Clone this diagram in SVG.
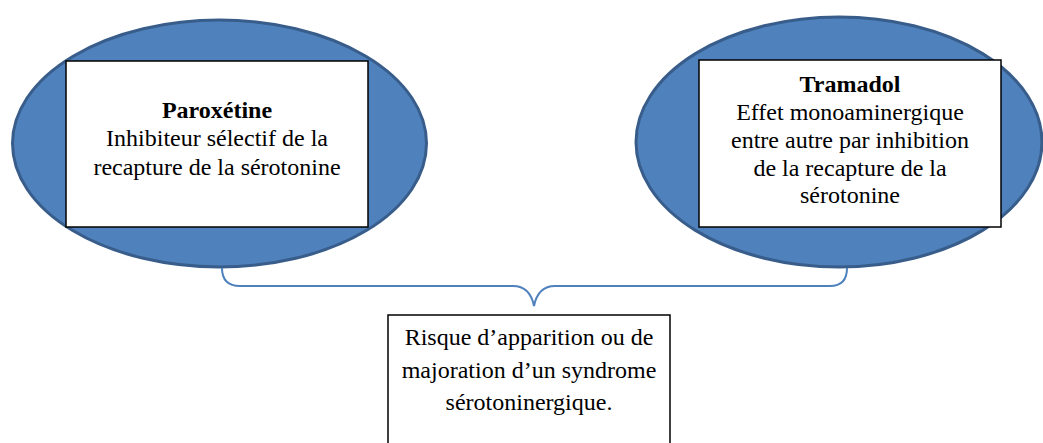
<svg xmlns="http://www.w3.org/2000/svg" width="1043" height="443" viewBox="0 0 1043 443">
<style>
.ell{fill:#4F81BD;stroke:#385D8A;stroke-width:3}
.box{fill:#FFFFFF;stroke:#000000;stroke-width:1.5}
.t{font-family:"Liberation Serif","Times New Roman",serif;font-size:24px;fill:#000;text-anchor:middle}
.b{font-weight:bold}
.brace{fill:none;stroke:#4F81BD;stroke-width:2}
</style>
<rect width="1043" height="443" fill="#FFFFFF"/>
<g id="paroxetine">
<ellipse class="ell" cx="219.5" cy="143.5" rx="207" ry="123.5"/>
<rect class="box" x="66" y="61" width="302" height="166"/>
<text class="t b" x="217" y="118">Paroxétine</text>
<text class="t" x="217" y="146">Inhibiteur sélectif de la</text>
<text class="t" x="217" y="175">recapture de la sérotonine</text>
</g>
<g id="tramadol">
<ellipse class="ell" cx="839" cy="142" rx="203" ry="125"/>
<rect class="box" x="699" y="60" width="302" height="167"/>
<text class="t b" x="850" y="92">Tramadol</text>
<text class="t" x="850" y="120">Effet monoaminergique</text>
<text class="t" x="850" y="148">entre autre par inhibition</text>
<text class="t" x="850" y="176">de la recapture de la</text>
<text class="t" x="850" y="203">sérotonine</text>
</g>
<g id="connectors">
<path class="brace" d="M222,268 Q222,286 240,286 L513,286 Q530,286 534,306 Q538,286 555,286 L830,286 Q847,286 847,268"/>
</g>
<g id="risque">
<rect class="box" x="388" y="315" width="282" height="140"/>
<text class="t" x="529" y="345">Risque d’apparition ou de</text>
<text class="t" x="529" y="378">majoration d’un syndrome</text>
<text class="t" x="529" y="410">sérotoninergique.</text>
</g>
</svg>
